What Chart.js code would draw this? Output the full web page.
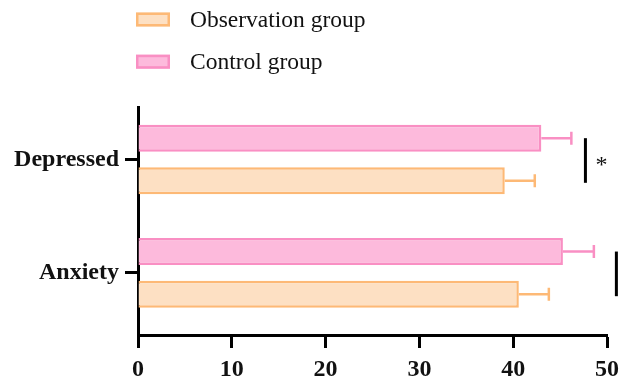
<!DOCTYPE html>
<html>
<head>
<meta charset="utf-8">
<script src="https://cdn.jsdelivr.net/npm/chart.js@4/dist/chart.umd.min.js"></script>
<style>
  html, body { margin: 0; padding: 0; background: #ffffff; }
  #wrap { width: 626px; height: 381px; }
</style>
</head>
<body>
<div id="wrap"><canvas id="chart" width="626" height="381"></canvas></div>
<script>
// Scores per domain (mean and standard deviation)
const categories = ['Depressed', 'Anxiety'];
const seriesNames = ['Observation group', 'Control group'];
const observationMean = [39.1, 40.6];
const observationSD = [3.2, 3.2];
const controlMean = [43.0, 45.3];
const controlSD = [3.2, 3.3];
const significanceMarks = ['*', '*'];
const xTicks = [0, 10, 20, 30, 40, 50];

const FONT = '"Liberation Serif", "Times New Roman", serif';
const ORANGE_FILL = '#fde0c3';
const ORANGE_LINE = '#fdb976';
const PINK_FILL = '#fdbadc';
const PINK_LINE = '#f98fc3';

const toPoints = arr => arr.map((v, i) => ({ x: v, y: i }));

// Control bars sit above the observation bars within each group
const datasets = [
  { label: seriesNames[1], data: toPoints(controlMean), sd: controlSD,
    backgroundColor: PINK_FILL, borderColor: PINK_LINE },
  { label: seriesNames[0], data: toPoints(observationMean), sd: observationSD,
    backgroundColor: ORANGE_FILL, borderColor: ORANGE_LINE }
];

// Right-hand error whiskers
const errorBars = {
  id: 'errorBars',
  afterDatasetsDraw(chart) {
    const { ctx } = chart;
    const xs = chart.scales.x;
    chart.data.datasets.forEach((ds, di) => {
      const meta = chart.getDatasetMeta(di);
      meta.data.forEach((bar, i) => {
        const end = xs.getPixelForValue(ds.data[i].x + ds.sd[i]);
        const start = xs.getPixelForValue(ds.data[i].x);
        ctx.save();
        ctx.strokeStyle = ds.borderColor;
        ctx.lineWidth = 2.5;
        ctx.beginPath();
        ctx.moveTo(start, bar.y);
        ctx.lineTo(end, bar.y);
        ctx.moveTo(end, bar.y - 6.5);
        ctx.lineTo(end, bar.y + 6.5);
        ctx.stroke();
        ctx.restore();
      });
    });
  }
};

// Significance brackets between the two bars of each group
const significance = {
  id: 'significance',
  afterDatasetsDraw(chart, args, opts) {
    const { ctx } = chart;
    const xs = chart.scales.x;
    const top = chart.getDatasetMeta(0).data;
    const bottom = chart.getDatasetMeta(1).data;
    categories.forEach((c, i) => {
      const x = xs.getPixelForValue(opts.positions[i]);
      ctx.save();
      ctx.strokeStyle = '#000';
      ctx.lineWidth = 3;
      ctx.beginPath();
      ctx.moveTo(x, top[i].y);
      ctx.lineTo(x, bottom[i].y + 2);
      ctx.stroke();
      ctx.fillStyle = '#111';
      ctx.font = '24px ' + FONT;
      ctx.textBaseline = 'middle';
      ctx.textAlign = 'left';
      ctx.fillText(significanceMarks[i], x + 10, (top[i].y + bottom[i].y) / 2 + 6);
      ctx.restore();
    });
  }
};

// Stacked legend in the top-left corner
const stackedLegend = {
  id: 'stackedLegend',
  afterDraw(chart, args, opts) {
    const { ctx } = chart;
    const order = [1, 0];
    order.forEach((di, row) => {
      const ds = chart.data.datasets[di];
      const cy = opts.y + row * opts.rowGap;
      ctx.save();
      ctx.fillStyle = ds.backgroundColor;
      ctx.strokeStyle = ds.borderColor;
      ctx.lineWidth = 2.5;
      ctx.fillRect(opts.x, cy - 7, 34, 14);
      ctx.strokeRect(opts.x + 1.25, cy - 5.75, 31.5, 11.5);
      ctx.fillStyle = '#111';
      ctx.font = '23.5px ' + FONT;
      ctx.textBaseline = 'middle';
      ctx.textAlign = 'left';
      ctx.fillText(ds.label, opts.x + 54, cy + 1);
      ctx.restore();
    });
  }
};

new Chart(document.getElementById('chart'), {
  type: 'bar',
  data: { datasets },
  options: {
    indexAxis: 'y',
    responsive: false,
    animation: false,
    devicePixelRatio: 1,
    layout: { padding: { top: 107, right: 12, left: 0, bottom: 0 } },
    datasets: {
      bar: {
        borderWidth: 2.5,
        categoryPercentage: 0.752,
        barPercentage: 0.635
      }
    },
    scales: {
      x: {
        type: 'linear',
        min: 0,
        max: 50,
        afterBuildTicks: s => { s.ticks = xTicks.map(v => ({ value: v })); },
        afterFit: s => { s.height = 46; },
        border: { display: true, color: '#000', width: 3 },
        grid: { display: true, drawOnChartArea: false, drawTicks: true, tickLength: 13, tickWidth: 3, color: '#000' },
        ticks: { color: '#111', padding: 7, font: { family: FONT, size: 24, weight: 'bold' } }
      },
      y: {
        type: 'linear',
        reverse: true,
        offset: false,
        min: -0.463,
        max: 1.548,
        afterBuildTicks: s => { s.ticks = categories.map((c, i) => ({ value: i })); },
        afterFit: s => { s.width = 138; },
        border: { display: true, color: '#000', width: 3 },
        grid: { display: true, offset: false, drawOnChartArea: false, drawTicks: true, tickLength: 13, tickWidth: 3, color: '#000' },
        ticks: {
          color: '#111',
          padding: 6,
          font: { family: FONT, size: 24, weight: 'bold' },
          callback: v => categories[v]
        }
      }
    },
    plugins: {
      legend: { display: false },
      tooltip: { enabled: false },
      significance: { positions: [47.7, 51.0] },
      stackedLegend: { x: 136, y: 19.5, rowGap: 42.2 }
    }
  },
  plugins: [errorBars, significance, stackedLegend]
});
</script>
</body>
</html>
